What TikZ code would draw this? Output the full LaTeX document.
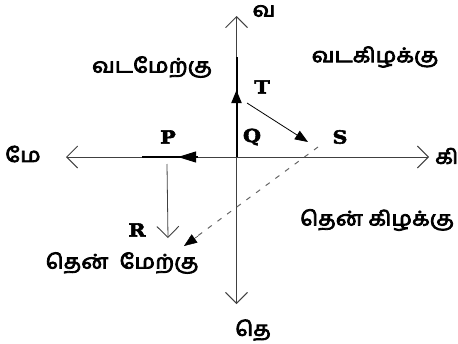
\documentclass[tikz,border=0pt]{standalone}
\usepackage{fontspec}
\usetikzlibrary{arrows.meta,calc}
\newfontfamily\tamil[Script=Tamil,FakeBold=4,FakeStretch=1.15]{Hind Madurai}
\newfontfamily\latb[FakeStretch=1.15,BoldFeatures={FakeBold=3}]{DejaVu Serif}
\begin{document}
\begin{tikzpicture}[x=1pt,y=-1pt,
  axis/.style={draw=black!75,line width=0.9pt,-{Straight Barb[length=11pt,width=22pt,line width=0.9pt]}},
  solidarrow/.style={draw=black,line width=0.8pt,-{Triangle[length=13pt,width=10pt]}},
  thickline/.style={draw=black,line width=2pt},
  dashline/.style={draw=black!60,line width=1pt,dash pattern=on 5pt off 7pt},
  tlabel/.style={font=\tamil\fontsize{20}{22}\selectfont,inner sep=0pt},
  plabel/.style={font=\latb\bfseries\fontsize{18}{20}\selectfont,inner sep=0pt}]
\useasboundingbox (0,0) rectangle (458,343);
% axis points
\coordinate (O) at (236.5,157);
\coordinate (Nt) at (236.5,16);
\coordinate (St) at (236.5,304);
\coordinate (Wt) at (66,157);
\coordinate (Et) at (429,157);
\draw[axis] (O) -- (Nt);
\draw[axis] (O) -- (St);
\draw[axis] (O) -- (Wt);
\draw[axis] (O) -- (Et);
% path points
\coordinate (Qtop) at (236.5,57);
\coordinate (Tt) at (236.5,90);
\coordinate (Pa) at (142,157);
\coordinate (Pb) at (198,157);
\coordinate (Ptip) at (178,157);
\coordinate (Ts) at (247,103);
\coordinate (Se) at (308,142);
\coordinate (Rs) at (167,164);
\coordinate (Re) at (168,238);
\coordinate (Ds) at (318,147);
\coordinate (De) at (184,246);
\coordinate (Dh) at (198,236);
\draw[thickline] (O) -- (Qtop);
\draw[solidarrow,line width=2pt] (O) -- (Tt);
\draw[thickline] (Pa) -- (Pb);
\draw[solidarrow,line width=1pt,-{Triangle[length=18pt,width=11pt]}] (Pb) -- (Ptip);
\draw[solidarrow] (Ts) -- (Se);
\draw[axis,line width=0.8pt] (Rs) -- (Re);
\draw[dashline] (Ds) -- (De);
\draw[draw=black,-{Triangle[length=13pt,width=10pt]}] (Dh) -- (De);
% labels
\node[tlabel] (lN) at (264,11) {வ};
\node[tlabel] (lW) at (23,154) {மே};
\node[tlabel,anchor=west] (lE) at (435,156) {கி};
\node[tlabel] (lS) at (253,330) {தெ};
\node[tlabel] (lNW) at (152,67) {வடமேற்கு};
\node[tlabel] (lNE) at (375,57) {வடகிழக்கு};
\node[tlabel] (lSE) at (377,220) {தென் கிழக்கு};
\node[tlabel] (lSW) at (122,263) {தென் \ மேற்கு};
\node[plabel] (T) at (262,87) {T};
\node[plabel] (Q) at (252,137) {Q};
\node[plabel] (P) at (168,137) {P};
\node[plabel] (S) at (340,137) {S};
\node[plabel] (R) at (137,230) {R};
\end{tikzpicture}
\end{document}
